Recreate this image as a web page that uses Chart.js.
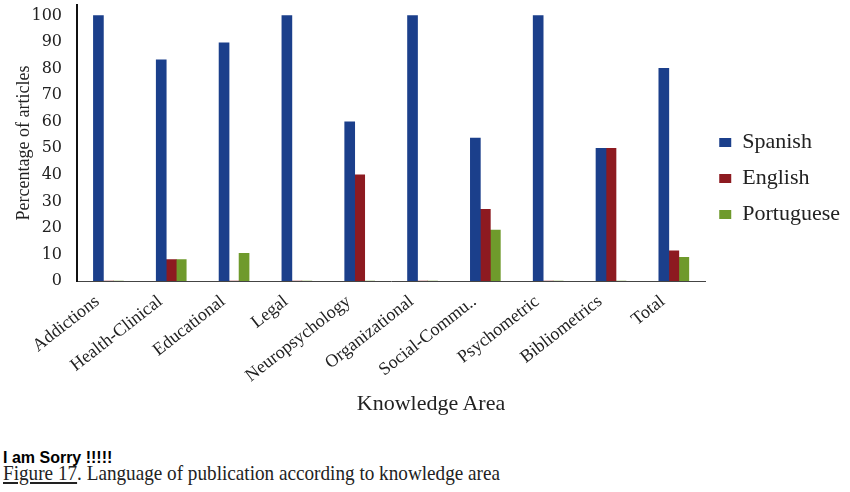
<!DOCTYPE html>
<html>
<head>
<meta charset="utf-8">
<script src="https://cdn.jsdelivr.net/npm/chart.js@4"></script>
<style>
  body { margin: 0; background: #fff; width: 850px; height: 492px; position: relative; overflow: hidden; }
  #wrap { position: absolute; left: 0; top: 0; width: 850px; height: 400px; }
  .xtitle { position: absolute; left: 0; width: 862px; top: 390px; text-align: center;
    font: 22px/25px "Liberation Serif", serif; color: #222; }
  .sorry { position: absolute; left: 3px; top: 449px; font: bold 16px/18px "Liberation Sans", sans-serif; color: #000; }
  .caption { position: absolute; left: 3px; top: 460px; font: 22px/25px "Liberation Serif", serif; color: #222;
    white-space: nowrap; transform: scaleX(0.872); transform-origin: left top; }
</style>
</head>
<body>
<div id="wrap"><canvas id="langChart"></canvas></div>
<div class="xtitle">Knowledge Area</div>
<div class="sorry">I am Sorry !!!!!</div>
<div class="caption"><u>Figure 17</u>. Language of publication according to knowledge area</div>

<script>
// categories (knowledge areas)
const areas = ["Addictions", "Health-Clinical", "Educational", "Legal", "Neuropsychology",
  "Organizational", "Social-Commu..", "Psychometric", "Bibliometrics", "Total"];

// % of articles per language
const spanish = [100, 83.3, 89.7, 100, 60, 100, 53.9, 100, 50, 80.1];
const english = [0, 8.1, 0, 0, 40, 0, 27, 0, 50, 11.4];
const portuguese = [0, 8.1, 10.4, 0, 0, 0, 19.2, 0, 0, 8.9];

const yMax = 100;
const yStep = 10;

const serif = "Liberation Serif";

// legend is centred on the upper band of the canvas, not on the whole height
const legendBand = {
  id: "legendBand",
  afterLayout(chart) {
    const lg = chart.legend;
    lg.bottom = 352;
    lg.height = lg.bottom - lg.top;
  },
};

const langData = {
  labels: areas,
  datasets: [
    { label: "Spanish", data: spanish, backgroundColor: "#1b3f8b" },
    { label: "English", data: english, backgroundColor: "#8d1a20" },
    { label: "Portuguese", data: portuguese, backgroundColor: "#6f9a2c" },
  ],
};

const langConfig = {
  type: "bar",
  data: langData,
  options: {
    responsive: true,
    maintainAspectRatio: false,
    animation: false,
    layout: { padding: { top: 5, right: 0, bottom: 0, left: 0 } },
    datasets: { bar: { barThickness: 10 } },
    plugins: {
      legend: {
        position: "right",
        align: "center",
        labels: {
          boxWidth: 12,
          boxHeight: 9,
          padding: 14,
          color: "#222",
          font: { family: serif, size: 22 },
        },
      },
      tooltip: { enabled: false },
    },
    scales: {
      x: {
        grid: { display: false, drawTicks: false },
        border: { color: "#444", width: 1 },
        ticks: {
          autoSkip: false,
          minRotation: 38,
          maxRotation: 38,
          labelOffset: -11,
          padding: 10,
          color: "#222",
          font: { family: serif, size: 18 },
        },
        afterFit: (scale) => { scale.height = 400 - 281; },
      },
      y: {
        min: 0,
        max: yMax + 4, // axis line runs a little above 100
        grid: { display: false, drawTicks: false },
        border: { color: "#111", width: 2 },
        ticks: {
          stepSize: yStep,
          includeBounds: false,
          padding: 15,
          color: "#222",
          font: { family: "DejaVu Serif", size: 16 },
        },
        title: {
          display: true,
          text: "Percentage of articles",
          color: "#222",
          font: { family: serif, size: 18 },
          padding: { top: 13, bottom: 0 },
        },
        afterFit: (scale) => {
          scale.width = 77;
          scale.paddingTop = 0;
        },
      },
    },
  },
  plugins: [legendBand],
};

const ctx = document.getElementById("langChart").getContext("2d");
new Chart(ctx, langConfig);
</script>
</body>
</html>
